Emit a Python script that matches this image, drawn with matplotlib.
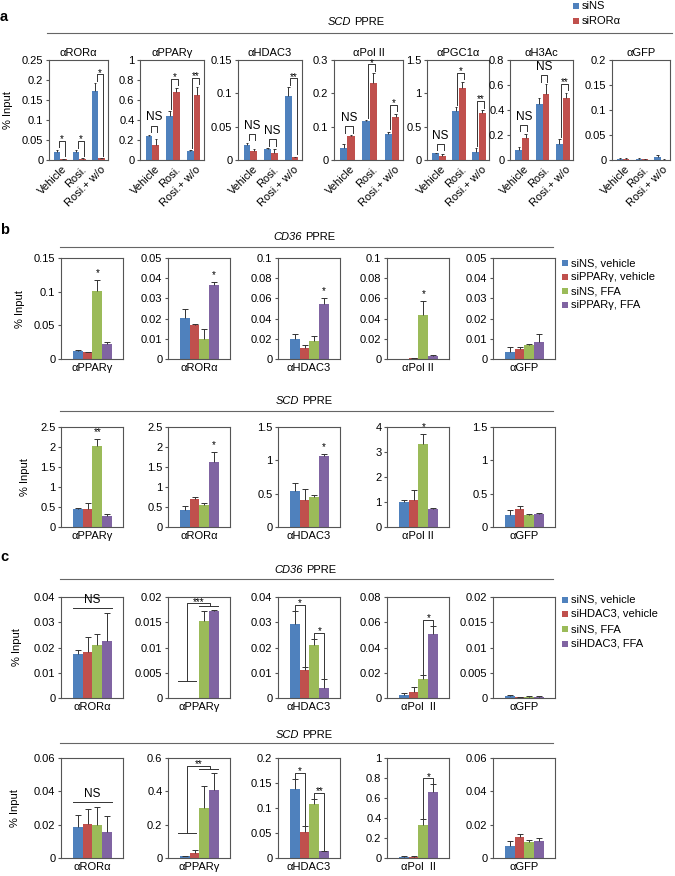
import numpy as np
import matplotlib
matplotlib.use("Agg")
import matplotlib.pyplot as plt
from matplotlib.patches import Rectangle
from matplotlib.lines import Line2D

# ============================================================
# Data
# ============================================================
A_GROUPS = ["Vehicle", "Rosi.", "Rosi.+ w/o"]
A_TARGETS = ["αRORα", "αPPARγ", "αHDAC3", "αPol II", "αPGC1α", "αH3Ac", "αGFP"]
A_YMAX = [0.25, 1, 0.15, 0.3, 1.5, 0.8, 0.2]
A_STEP = [0.05, 0.2, 0.05, 0.1, 0.5, 0.2, 0.05]
A_SINS = [[0.020, 0.021, 0.172], [0.245, 0.445, 0.095], [0.022, 0.016, 0.096],
          [0.037, 0.118, 0.077], [0.100, 0.740, 0.125], [0.080, 0.445, 0.130],
          [0.003, 0.003, 0.007]]
A_SINS_ERR = [[0.006, 0.004, 0.020], [0.010, 0.045, 0.005], [0.004, 0.002, 0.013],
              [0.012, 0.002, 0.008], [0.010, 0.050, 0.050], [0.025, 0.055, 0.035],
              [0.001, 0.001, 0.004]]
A_SIROR = [[0.002, 0.003, 0.004], [0.155, 0.680, 0.655], [0.013, 0.011, 0.004],
           [0.072, 0.230, 0.130], [0.065, 1.085, 0.710], [0.180, 0.525, 0.495],
           [0.003, 0.002, 0.001]]
A_SIROR_ERR = [[0.001, 0.001, 0.001], [0.060, 0.040, 0.080], [0.004, 0.005, 0.001],
               [0.003, 0.030, 0.009], [0.025, 0.090, 0.040], [0.030, 0.080, 0.045],
               [0.001, 0.001, 0.0005]]
A_SIG = [["*", "*", "*"], ["NS", "*", "**"], ["NS", "NS", "**"], ["NS", "*", "*"],
         ["NS", "*", "**"], ["NS", "NS", "**"], ["", "", ""]]
A_LEGEND = ["siNS", "siRORα"]

B_TARGETS = ["αPPARγ", "αRORα", "αHDAC3", "αPol II", "αGFP"]
B_LEGEND = ["siNS, vehicle", "siPPARγ, vehicle", "siNS, FFA", "siPPARγ, FFA"]
B1_YMAX = [0.15, 0.05, 0.1, 0.1, 0.05]
B1_STEP = [0.05, 0.01, 0.02, 0.02, 0.01]
B1_VALS = [[0.012, 0.010, 0.101, 0.022], [0.0205, 0.0167, 0.010, 0.0365],
           [0.0197, 0.0107, 0.018, 0.0543], [0.0003, 0.0005, 0.044, 0.003],
           [0.0037, 0.0048, 0.007, 0.0085]]
B1_ERR = [[0.001, 0.0005, 0.016, 0.003], [0.0045, 0.0004, 0.005, 0.0015],
          [0.0047, 0.003, 0.0043, 0.006], [0.0001, 0.0002, 0.013, 0.0005],
          [0.002, 0.0009, 0.0005, 0.004]]
B1_STAR = [(2, "*"), (3, "*"), (3, "*"), (2, "*"), None]

B2_YMAX = [2.5, 2.5, 1.5, 4, 1.5]
B2_STEP = [0.5, 0.5, 0.5, 1, 0.5]
B2_VALS = [[0.46, 0.46, 2.025, 0.27], [0.43, 0.69, 0.54, 1.62],
           [0.54, 0.41, 0.445, 1.06], [1.0, 1.1, 3.33, 0.71],
           [0.185, 0.275, 0.185, 0.195]]
B2_ERR = [[0.015, 0.14, 0.175, 0.06], [0.10, 0.06, 0.06, 0.26],
          [0.125, 0.155, 0.04, 0.04], [0.10, 0.40, 0.40, 0.04],
          [0.075, 0.04, 0.005, 0.01]]
B2_STAR = [(2, "**"), (3, "*"), (3, "*"), (2, "*"), None]

C_TARGETS = ["αRORα", "αPPARγ", "αHDAC3", "αPol  II", "αGFP"]
C_LEGEND = ["siNS, vehicle", "siHDAC3, vehicle", "siNS, FFA", "siHDAC3, FFA"]
C1_YMAX = [0.04, 0.02, 0.04, 0.08, 0.02]
C1_STEP = [0.01, 0.005, 0.01, 0.02, 0.005]
C1_VALS = [[0.0174, 0.0181, 0.021, 0.0227], [0.00003, 0.00005, 0.0153, 0.0172],
           [0.0293, 0.011, 0.0211, 0.004], [0.0026, 0.0045, 0.015, 0.0507],
           [0.0003, 0.0001, 0.0002, 0.0002]]
C1_ERR = [[0.0015, 0.006, 0.0045, 0.011], [0.0, 0.0, 0.0019, 0.0003],
          [0.0053, 0.0011, 0.0024, 0.0035], [0.0014, 0.004, 0.003, 0.0065],
          [0.0002, 0.0001, 0.0001, 0.0001]]
C1_SIG = [("line", "NS"), ("nested", "***"), ("pairs", [(0, 1, "*"), (2, 3, "*")]),
          ("pairs", [(2, 3, "*")]), None]

C2_YMAX = [0.06, 0.6, 0.2, 1, 0.06]
C2_STEP = [0.02, 0.2, 0.05, 0.2, 0.02]
C2_VALS = [[0.0187, 0.0207, 0.0199, 0.0155], [0.010, 0.030, 0.298, 0.411],
           [0.139, 0.053, 0.108, 0.0132], [0.010, 0.013, 0.331, 0.662],
           [0.007, 0.0125, 0.0095, 0.0101]]
C2_ERR = [[0.0071, 0.0087, 0.0107, 0.0099], [0.004, 0.016, 0.135, 0.102],
          [0.019, 0.0106, 0.011, 0.0018], [0.006, 0.007, 0.056, 0.076],
          [0.0033, 0.002, 0.0015, 0.0019]]
C2_SIG = [("line", "NS"), ("nested", "**"), ("pairs", [(0, 1, "*"), (2, 3, "**")]),
          ("pairs", [(2, 3, "*")]), None]

COLORS = ["#4F81BD", "#C0504D", "#9BBB59", "#8064A2"]
LINE_C = "#333333"
FS = 8

# ============================================================
# Style / helpers
# ============================================================
W, H = 675, 876
plt.rcParams.update({
    "font.family": ["Liberation Sans", "DejaVu Sans"],
    "font.size": FS,
    "axes.linewidth": 0.8,
    "axes.edgecolor": "#555555",
    "ytick.color": "#555555",
    "ytick.labelcolor": "black",
    "ytick.major.size": 2.5,
    "ytick.major.width": 0.8,
    "ytick.major.pad": 1.5,
    "ytick.labelsize": FS,
    "xtick.labelsize": FS,
})

fig = plt.figure(figsize=(W / 100, H / 100), dpi=100)


def px_axes(left, right, top, bottom):
    return fig.add_axes([left / W, 1 - bottom / H, (right - left) / W, (bottom - top) / H])


def ftext(x, y, s, **kw):
    fig.text(x / W, 1 - y / H, s, **kw)


def fhline(x0, x1, y):
    fig.add_artist(Line2D([x0 / W, x1 / W], [1 - y / H, 1 - y / H], color="#666666", lw=0.8))


def header(x_split, y, gene, line_x0, line_x1, line_y):
    ftext(x_split, y, gene, style="italic", ha="right", va="center", fontsize=FS)
    ftext(x_split + 3, y, "PPRE", ha="left", va="center", fontsize=FS)
    fhline(line_x0, line_x1, line_y)


def legend(x, ys, labels):
    for y, lab, c in zip(ys, labels, COLORS):
        fig.add_artist(Rectangle((x / W, 1 - (y + 2.8) / H), 5.6 / W, 5.6 / H,
                                 transform=fig.transFigure, color=c, lw=0))
        ftext(x + 9, y, lab, ha="left", va="center", fontsize=FS)


def set_y(ax, ymax, step):
    ax.set_ylim(0, ymax)
    ticks = [round(v, 4) for v in np.arange(0, ymax + step / 2, step)]
    ax.set_yticks(ticks)
    ax.set_yticklabels([f"{t:g}" for t in ticks])


def err_up(ax, x, vals, err, half):
    tops = vals + err
    ax.vlines(x, vals, tops, color=LINE_C, lw=0.7)
    ax.hlines(tops, x - half, x + half, color=LINE_C, lw=0.7)


def bracket(ax, x0, x1, t0, t1, label, ymax, leg_pad, top_pad):
    top = max(t0, t1) + top_pad * ymax
    ax.plot([x0, x0, x1, x1], [t0 + leg_pad * ymax, top, top, t1 + leg_pad * ymax],
            color=LINE_C, lw=0.7, clip_on=False)
    if label == "NS":
        ax.text((x0 + x1) / 2, top + 0.02 * ymax, label, ha="center", va="bottom", fontsize=FS + 0.5)
    else:
        ax.text((x0 + x1) / 2, top - 0.035 * ymax, label, ha="center", va="bottom", fontsize=7)


# ============================================================
# Panel a
# ============================================================
ftext(0, 17, "a", fontweight="bold", fontsize=10.5, va="center")
header(351, 22, "SCD", 47, 672, 33)
legend(573, [6, 21], A_LEGEND)

a_left = [49, 140, 238, 334, 427, 510, 612]
a_right = [108, 204, 302, 403, 489, 573, 670]
x = np.arange(3)
bw = 0.33
for i, name in enumerate(A_TARGETS):
    ax = px_axes(a_left[i], a_right[i], 60, 160)
    ymax = A_YMAX[i]
    v1, e1 = np.array(A_SINS[i]), np.array(A_SINS_ERR[i])
    v2, e2 = np.array(A_SIROR[i]), np.array(A_SIROR_ERR[i])
    ax.bar(x - bw / 2, v1, bw, color=COLORS[0])
    ax.bar(x + bw / 2, v2, bw, color=COLORS[1])
    err_up(ax, x - bw / 2, v1, e1, 0.06)
    err_up(ax, x + bw / 2, v2, e2, 0.06)
    set_y(ax, ymax, A_STEP[i])
    ax.set_xlim(-0.6, 2.5)
    ax.set_xticks(x + 0.1)
    ax.set_xticklabels(A_GROUPS, rotation=45, ha="right", rotation_mode="anchor")
    ax.tick_params(axis="x", length=0, pad=3)
    ax.set_title(name, fontsize=FS, pad=3)
    for g in range(3):
        lab = A_SIG[i][g]
        if not lab:
            continue
        t0, t1 = v1[g] + e1[g], v2[g] + e2[g]
        if lab == "NS":
            t0 = t1 = max(t0, t1)
        bracket(ax, g - bw / 2 + 0.08, g + bw / 2 + 0.08, t0, t1, lab, ymax, 0.025, 0.09)
ftext(8, 110, "% Input", rotation=90, ha="center", va="center", fontsize=FS)

# ============================================================
# Panels b and c
# ============================================================
BC_LEFT = [61, 168, 278, 387, 493]
BC_RIGHT = [123, 230, 340, 449, 555]
x4 = np.arange(4)


def bar4(ax, vals, err, ymax, step, name):
    vals, err = np.array(vals), np.array(err)
    ax.bar(x4, vals, 1.0, color=COLORS)
    err_up(ax, x4, vals, err, 0.3)
    set_y(ax, ymax, step)
    ax.set_xlim(-1.7, 4.6)
    ax.set_xticks([])
    ax.set_xlabel(name, fontsize=FS, labelpad=3)
    return vals + err


def row_b(top, bottom, vals, errs, ymaxs, steps, stars):
    for i, name in enumerate(B_TARGETS):
        ax = px_axes(BC_LEFT[i], BC_RIGHT[i], top, bottom)
        tops = bar4(ax, vals[i], errs[i], ymaxs[i], steps[i], name)
        if stars[i] is not None:
            k, lab = stars[i]
            ax.text(k, tops[k] + 0.02 * ymaxs[i], lab, ha="center", va="bottom", fontsize=7)


def row_c(top, bottom, vals, errs, ymaxs, steps, sigs):
    for i, name in enumerate(C_TARGETS):
        ax = px_axes(BC_LEFT[i], BC_RIGHT[i], top, bottom)
        ymax = ymaxs[i]
        tops = bar4(ax, vals[i], errs[i], ymax, steps[i], name)
        sig = sigs[i]
        if sig is None:
            continue
        kind = sig[0]
        if kind == "line":
            yl = tops.max() + 0.05 * ymax
            ax.plot([-0.5, 3.5], [yl, yl], color=LINE_C, lw=0.7)
            ax.text(1.5, yl + 0.02 * ymax, sig[1], ha="center", va="bottom", fontsize=FS + 0.5)
        elif kind == "nested":
            y1 = tops[:2].max() + 0.17 * ymax
            y2 = tops[2:].max() + 0.035 * ymax
            yt = y2 + 0.03 * ymax
            ax.plot([-0.7, 1.1], [y1, y1], color=LINE_C, lw=0.7)
            ax.plot([0.2, 0.2, 2.6, 2.6], [y1, yt, yt, y2], color=LINE_C, lw=0.7, clip_on=False)
            ax.plot([1.5, 3.4], [y2, y2], color=LINE_C, lw=0.7)
            ax.text(1.4, yt - 0.035 * ymax, sig[1], ha="center", va="bottom", fontsize=7)
        else:
            for a_, b_, lab in sig[1]:
                bracket(ax, a_, b_, tops[a_], tops[b_], lab, ymax, 0.01, 0.06)


ftext(0, 230, "b", fontweight="bold", fontsize=10.5, va="center")
header(302, 237, "CD36", 60, 553, 247)
legend(562, [263, 277, 291, 305], B_LEGEND)
row_b(258, 359, B1_VALS, B1_ERR, B1_YMAX, B1_STEP, B1_STAR)
ftext(20, 309, "% Input", rotation=90, ha="center", va="center", fontsize=FS)

header(299, 401, "SCD", 60, 553, 411)
row_b(427, 527, B2_VALS, B2_ERR, B2_YMAX, B2_STEP, B2_STAR)
ftext(25, 477, "% Input", rotation=90, ha="center", va="center", fontsize=FS)

ftext(0, 557, "c", fontweight="bold", fontsize=10.5, va="center")
header(303, 570, "CD36", 60, 553, 579)
legend(562, [600, 614, 629, 644], C_LEGEND)
row_c(597, 698, C1_VALS, C1_ERR, C1_YMAX, C1_STEP, C1_SIG)
ftext(17, 647, "% Input", rotation=90, ha="center", va="center", fontsize=FS)

header(299, 735, "SCD", 60, 553, 743)
row_c(758, 858, C2_VALS, C2_ERR, C2_YMAX, C2_STEP, C2_SIG)
ftext(15, 808, "% Input", rotation=90, ha="center", va="center", fontsize=FS)

fig.savefig("out.png", dpi=100)
